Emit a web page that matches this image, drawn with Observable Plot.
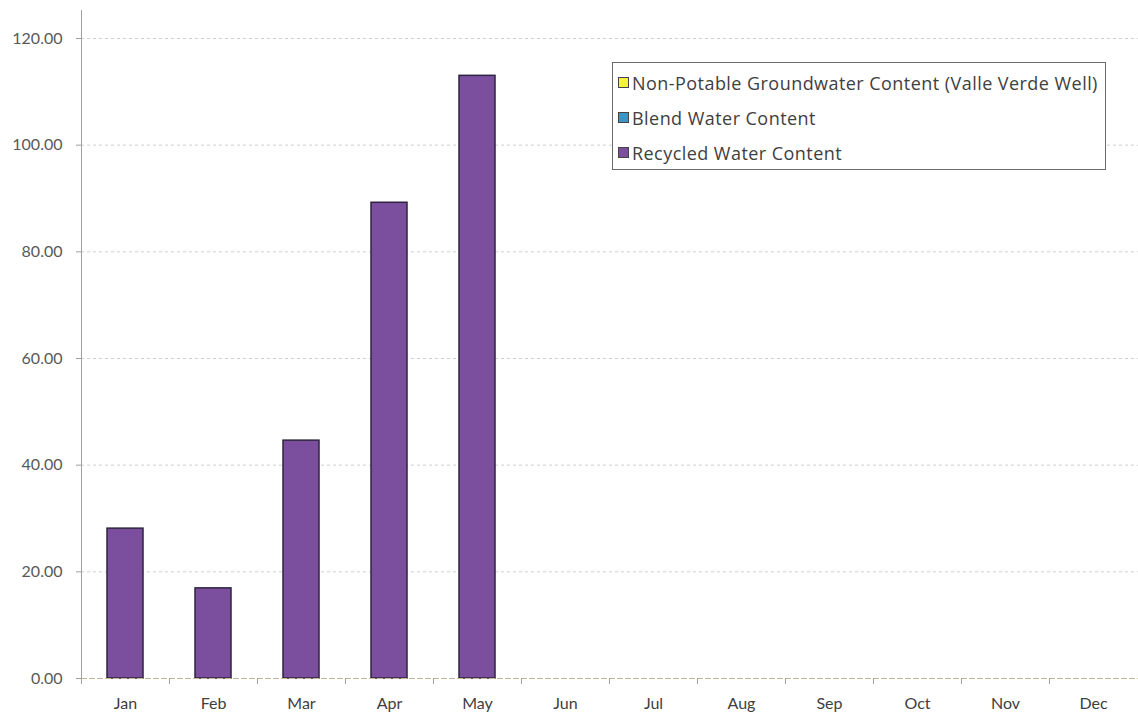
<!DOCTYPE html>
<html>
<head>
<meta charset="utf-8">
<script src="https://cdn.jsdelivr.net/npm/d3@7"></script>
<script src="https://cdn.jsdelivr.net/npm/@observablehq/plot@0.6"></script>
<style>
  html, body { margin: 0; padding: 0; background: #ffffff; }
  #wrap { position: relative; width: 1138px; height: 715px; font-family: Lato, "Open Sans", sans-serif; }
  #legend { position: absolute; left: 612px; top: 62px; width: 494px; height: 108px; border: 1px solid #6b6b6b; background: #fff; box-sizing: border-box; padding-top: 2px; }
  .item { display: flex; align-items: center; height: 35px; padding-left: 5px; font-family: "Open Sans", sans-serif; font-size: 18px; letter-spacing: 0.45px; color: #404040; white-space: nowrap; }
  .sw { width: 11px; height: 11px; border: 1px solid #444; margin-right: 3px; box-sizing: border-box; flex: none; }
</style>
</head>
<body>
<div id="wrap"><div id="chart"></div><div id="legend"></div></div>
<script>
const months = ["Jan","Feb","Mar","Apr","May","Jun","Jul","Aug","Sep","Oct","Nov","Dec"];
const seriesNames = ["Non-Potable Groundwater Content (Valle Verde Well)", "Blend Water Content", "Recycled Water Content"];
const seriesColors = ["#f5f23c", "#3a96c8", "#7b4f9e"];
const nonPotable = [0, 0, 0, 0, 0, null, null, null, null, null, null, null];
const blend      = [0, 0, 0, 0, 0, null, null, null, null, null, null, null];
const recycled   = [28.1, 16.9, 44.6, 89.2, 113.0, null, null, null, null, null, null, null];
const yTicks = [0, 20, 40, 60, 80, 100, 120];

const rows = [];
[nonPotable, blend, recycled].forEach((arr, si) => {
  arr.forEach((v, i) => { if (v != null && v > 0) rows.push({month: months[i], series: seriesNames[si], value: v}); });
});

const W = 1138, H = 715, mL = 81, mR = 0;
const halfStep = (W - mL - mR) / months.length / 2;

const chart = Plot.plot({
  width: W, height: H,
  marginLeft: mL, marginRight: mR, marginTop: 10, marginBottom: 37,
  style: {fontFamily: "Lato, 'Open Sans', sans-serif", fontSize: "16px", color: "#595959", background: "transparent"},
  x: {domain: months, paddingInner: 0.59, paddingOuter: 0.295, label: null},
  y: {domain: [0, 125.25], label: null},
  color: {domain: seriesNames, range: seriesColors},
  marks: [
    Plot.ruleY(yTicks.slice(1), {stroke: "#cfcfcf", strokeDasharray: "3,3", strokeWidth: 1}),
    Plot.barY(rows, Plot.stackY({x: "month", y: "value", fill: "series", stroke: "#2e2440", strokeWidth: 1.5})),
    Plot.ruleY([0], {stroke: "#c8b89a", strokeWidth: 1.2, strokeDasharray: "6,2"}),
    Plot.frame({anchor: "left", stroke: "#a0a0a0"}),
    Plot.axisY({ticks: yTicks, tickFormat: d => d.toFixed(2), tickSize: 5, tickPadding: 14, stroke: "#a0a0a0", fill: "#595959", fontSize: 16}),
    Plot.axisX({ticks: months, tickSize: 0, tickPadding: 19, fill: "#404040", fontSize: 16}),
    Plot.axisX({ticks: months, tickSize: 6, tickFormat: () => "", dx: -halfStep, stroke: "#a0a0a0"})
  ]
});
document.getElementById("chart").appendChild(chart);

const leg = document.getElementById("legend");
seriesNames.forEach((n, i) => {
  const it = document.createElement("div");
  it.className = "item";
  const sw = document.createElement("span");
  sw.className = "sw";
  sw.style.background = seriesColors[i];
  it.appendChild(sw);
  it.appendChild(document.createTextNode(n));
  leg.appendChild(it);
});
</script>
</body>
</html>
